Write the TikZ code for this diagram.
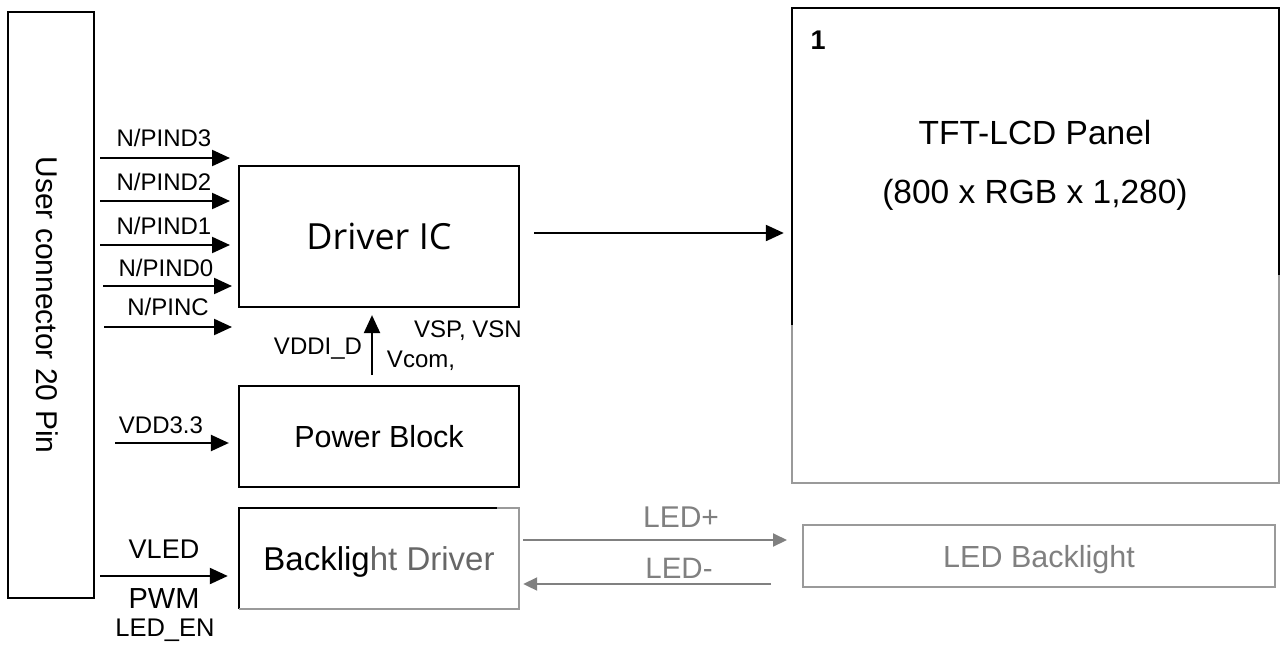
\documentclass[tikz,border=0pt]{standalone}
\usepackage{fontspec}
\setmainfont{Liberation Sans}
\newfontfamily\drvfont{Open Sans}
\usepackage{xcolor}
\usetikzlibrary{arrows.meta,positioning,calc}
\definecolor{ledgray}{HTML}{808080}
\definecolor{edgegray}{HTML}{9A9A9A}

\begin{document}
\begin{tikzpicture}[
  x=1pt, y=-1pt,
  every node/.style={inner sep=0pt},
  blk/.style={minimum width=280pt, minimum height=101pt},
  sig/.style={font=\fontsize{24}{26}\selectfont},
  big/.style={font=\fontsize{30}{32}\selectfont},
  arr/.style={-{Triangle[length=18pt,width=16pt]}, line width=2.2pt},
  garr/.style={-{Triangle[length=14pt,width=13pt]}, line width=2pt, ledgray},
]
\useasboundingbox (0,0) rectangle (1281,648);

%% ---- user connector ----
\node[draw, line width=2.2pt, minimum width=86pt, minimum height=586pt] (con) at (51,305) {};
\node[big, rotate=-90] (contxt) at (47,305) {User connector 20 Pin};

%% ---- blocks ----
\node[draw, line width=2.2pt, blk, minimum height=141pt,
      font=\drvfont\fontsize{36}{38}\selectfont] (drv) at (379,236.5) {Driver IC};
\node[draw, line width=2.2pt, blk, font=\fontsize{30.5}{32}\selectfont] (pwr) at (379,436.5) {Power Block};
\node[blk, text depth=0pt, font=\fontsize{33}{34}\selectfont] (bld) at (379,558.5)
  {Backlig\textcolor{ledgray!80!black}{ht Driver}};

%% ---- panel ----
\node[minimum width=487pt, minimum height=475pt] (pnl) at (1035.5,245.5) {};
\node[font=\bfseries\fontsize{27}{28}\selectfont] (pnlnum) at (818,40) {1};
\node[font=\fontsize{33.5}{35}\selectfont] (pnlname) at (1035,133) {TFT-LCD Panel};
\node[font=\fontsize{33.5}{35}\selectfont] (pnlres) at (1035,195) {(800 x RGB x 1,280)};

%% ---- LED backlight ----
\node[draw=edgegray, line width=2pt, minimum width=472pt, minimum height=62pt, text depth=0pt,
      text=ledgray, font=\fontsize{30.5}{32}\selectfont] (led) at (1039,556) {LED Backlight};

%% ---- block outlines (black / faded gray) ----
\draw[line width=2.2pt] ([yshift=158pt]pnl.south west) -- (pnl.north west)
  -- (pnl.north east) -- ([yshift=208pt]pnl.south east);
\draw[line width=2pt, edgegray] ([yshift=158pt]pnl.south west) -- (pnl.south west)
  -- (pnl.south east) -- ([yshift=208pt]pnl.south east);
\draw[line width=2.2pt] (bld.south west) -- (bld.north west) -- ([xshift=-22pt]bld.north east);
\draw[line width=2pt, edgegray] ([xshift=-22pt]bld.north east) -- (bld.north east)
  -- (bld.south east) -- (bld.south west);

%% ---- data inputs ----
\coordinate (d3a) at (100,158); \coordinate (d3b) at (230,158);
\coordinate (d2a) at (100,201); \coordinate (d2b) at (230,201);
\coordinate (d1a) at (100,245); \coordinate (d1b) at (230,245);
\coordinate (d0a) at (103,286); \coordinate (d0b) at (232,286);
\coordinate (cka) at (104,327); \coordinate (ckb) at (232,327);
\node[sig] (d3lbl) at (164,138) {N/PIND3};
\node[sig] (d2lbl) at (164,182) {N/PIND2};
\node[sig] (d1lbl) at (164,226) {N/PIND1};
\node[sig] (d0lbl) at (166,268) {N/PIND0};
\node[sig] (cklbl) at (168,307) {N/PINC};

%% ---- power labels ----
\coordinate (pwa) at (372,375);
\node[sig] (vddi) at (318,349) {VDDI\_D};
\node[sig] (vspn) at (468,331) {VSP, VSN};
\node[sig] (vcom) at (421,361) {Vcom,};
\coordinate (vdd) at (115,443);
\node[sig] (vddlbl) at (161,425) {VDD3.3};

%% ---- backlight labels ----
\coordinate (vled) at (100,576);
\node[font=\fontsize{27}{28}\selectfont] (vledlbl) at (164,549) {VLED};
\node[font=\fontsize{29}{30}\selectfont] (pwmlbl) at (164,599) {PWM};
\node[font=\fontsize{25.5}{28}\selectfont] (enlbl) at (165,630) {LED\_EN};
\node[font=\fontsize{30}{30}\selectfont, text=ledgray] (ledp) at (681,517) {LED+};
\node[font=\fontsize{29.5}{30}\selectfont, text=ledgray] (ledm) at (679,568) {LED-};

%% ---- arrows ----
\draw[arr] (d3a) -- (d3b);
\draw[arr] (d2a) -- (d2b);
\draw[arr] (d1a) -- (d1b);
\draw[arr] (d0a) -- (d0b);
\draw[arr] (cka) -- (ckb);
\draw[arr] (pwa) -- ([yshift=-7pt]pwa |- drv.south);
\draw[arr] ([xshift=14pt,yshift=3.5pt]drv.east) coordinate (dp) -- ([xshift=-8pt]dp -| pnl.west);
\draw[arr] (vdd) -- ([xshift=-9pt]vdd -| pwr.west);
\draw[arr] (vled) -- ([xshift=-11pt]vled -| bld.west);
\draw[garr] ([xshift=4pt,yshift=18.5pt]bld.east) coordinate (lp) -- ([xshift=-15pt]lp -| led.west);
\draw[garr] ([xshift=-31pt,yshift=-25.5pt]bld.east -| led.west) -- ([xshift=4pt,yshift=-25.5pt]bld.east);
\end{tikzpicture}
\end{document}
